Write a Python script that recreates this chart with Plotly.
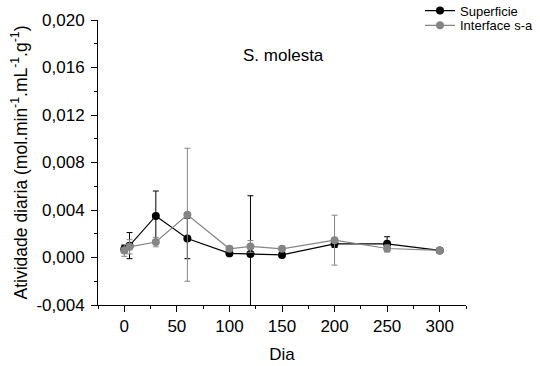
import plotly.graph_objects as go

dias = [0, 5, 30, 60, 100, 120, 150, 200, 250, 300]
superficie = [0.0007, 0.0010, 0.0035, 0.0016, 0.00035, 0.0003, 0.00022, 0.00115, 0.00115, 0.0006]
superficie_err = [0.0003, 0.0011, 0.0021, 0.0017, 0.0001, 0.0049, 0.0001, 0.0003, 0.0006, 0.0001]
interface = [0.0006, 0.0009, 0.0013, 0.0036, 0.00073, 0.00093, 0.00073, 0.00146, 0.00076, 0.0006]
interface_err = [0.0005, 0.0006, 0.0004, 0.0056, 0.0002, 0.0005, 0.0001, 0.0021, 0.0003, 0.0001]

y_ticks = [-0.004, 0.0, 0.004, 0.008, 0.012, 0.016, 0.020]
y_ticktext = ["-0,004", "0,000", "0,004", "0,008", "0,012", "0,016", "0,020"]
x_ticks = [0, 50, 100, 150, 200, 250, 300]

GRAY = "#858585"
FONT = "Arial, Liberation Sans"

fig = go.Figure()
fig.add_trace(go.Scatter(
    x=dias, y=superficie, name="Superficie", mode="lines+markers",
    line=dict(color="black", width=1.2),
    marker=dict(color="black", size=8),
    error_y=dict(type="data", array=superficie_err, color="black", thickness=1, width=3),
    legend="legend",
))
fig.add_trace(go.Scatter(
    x=dias, y=interface, name="Interface s-a", mode="lines+markers",
    line=dict(color=GRAY, width=1.2),
    marker=dict(color=GRAY, size=8),
    error_y=dict(type="data", array=interface_err, color=GRAY, thickness=1, width=3),
    legend="legend2",
))

axis_common = dict(
    showline=True, linecolor="black", linewidth=1, mirror=False,
    ticks="outside", ticklen=6, tickcolor="black", showgrid=False, zeroline=False,
    tickfont=dict(family=FONT, size=17, color="black"),
)
leg_common = dict(xanchor="left", yanchor="middle", font=dict(size=13),
                  bgcolor="rgba(0,0,0,0)", itemwidth=30)
fig.update_layout(
    width=540, height=366,
    margin=dict(l=98, r=74, t=20, b=61, autoexpand=False),
    paper_bgcolor="white", plot_bgcolor="white",
    font=dict(family=FONT, color="black"),
    xaxis=dict(
        range=[-25, 325], tickvals=x_ticks,
        minor=dict(ticks="outside", ticklen=3, dtick=25, tick0=0, tickcolor="black"),
        title=dict(text="Dia", font=dict(size=17), standoff=12),
        **axis_common,
    ),
    yaxis=dict(
        range=[-0.004, 0.020], tickvals=y_ticks, ticktext=y_ticktext,
        ticklabelstandoff=3,
        minor=dict(ticks="outside", ticklen=3, dtick=0.002, tick0=0, tickcolor="black"),
        title=dict(text="Atividade diaria (mol.min<sup>-1</sup>.mL<sup>-1</sup>.g<sup>-1</sup>)",
                   font=dict(size=17.5), standoff=4),
        **axis_common,
    ),
    legend=dict(x=0.875, y=1.033, **leg_common),
    legend2=dict(x=0.875, y=0.981, **leg_common),
    showlegend=True,
    annotations=[dict(text="S. molesta", x=0.503, y=0.916, xref="paper", yref="paper",
                      showarrow=False, font=dict(size=17))],
)
fig.write_html("out.html")
